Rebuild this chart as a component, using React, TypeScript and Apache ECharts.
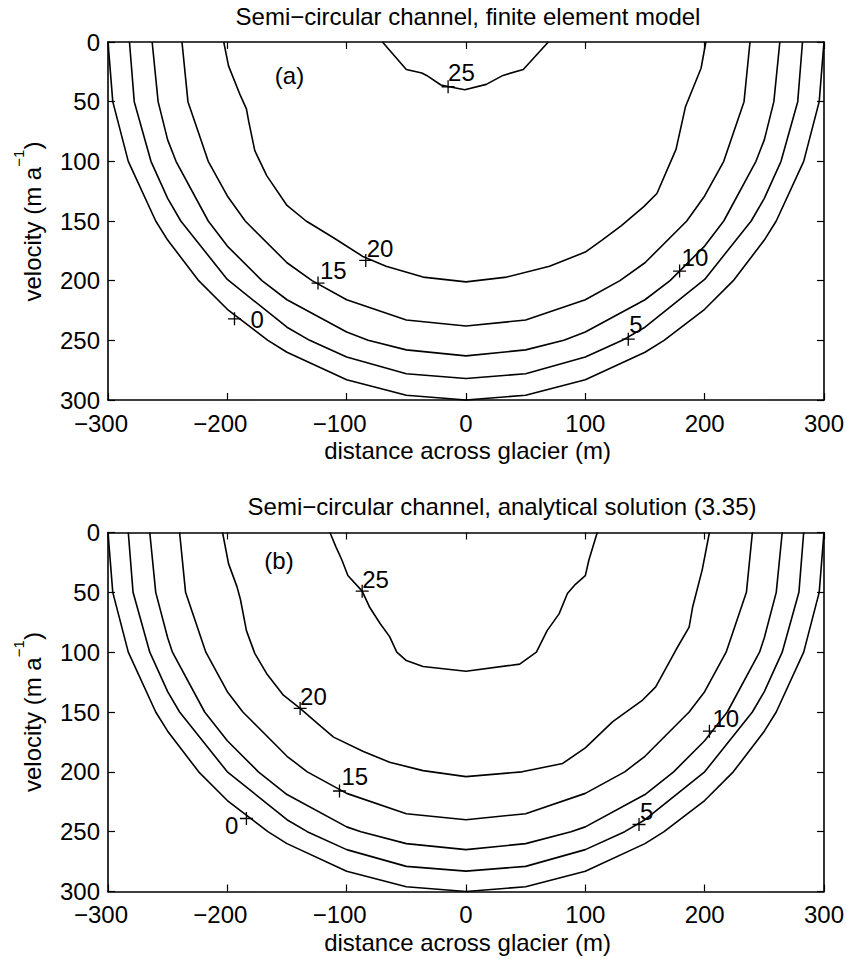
import React, { useEffect, useRef } from "react";
import * as echarts from "echarts";

// ---- Panel (a): finite element model, contour lines [distance (m), depth (m)] ----
const feLevel0 = [[-300,0],[-296,50],[-283,100],[-260,150],[-250,166],[-224,200],[-200,224],[-166,250],[-150,260],[-100,283],[-50,296],[0,300],[50,296],[100,283],[150,260],[166,250],[200,224],[224,200],[250,166],[260,150],[283,100],[296,50],[300,0]];
const feLevel5 = [[-282,0],[-278,50],[-264,100],[-250,131],[-239,150],[-200,199],[-150,239],[-131,250],[-100,264],[-50,278],[0,282],[50,278],[100,264],[131,250],[150,239],[200,199],[239,150],[250,131],[264,100],[278,50],[282,0]];
const feLevel10 = [[-263,0],[-258,50],[-250,82],[-243,100],[-216,150],[-200,171],[-171,200],[-150,216],[-100,243],[-82,250],[-50,258],[0,263],[50,258],[82,250],[100,243],[150,216],[171,200],[200,171],[216,150],[243,100],[250,82],[258,50],[263,0]];
const feLevel15 = [[-238,0],[-233,50],[-216,100],[-200,129],[-185,150],[-150,185],[-129,200],[-100,216],[-50,233],[0,238],[50,233],[100,216],[129,200],[150,185],[185,150],[200,129],[216,100],[233,50],[238,0]];
const feLevel20 = [[-203,0],[-199,20],[-189,45],[-184,56],[-182,67],[-177,91],[-167,112],[-150,137],[-134,150],[-111,164],[-86,180],[-67,188],[-36,197],[0,201],[34,197],[70,188],[100,176],[114,166],[130,154],[149,138],[160,127],[176,90],[184,54],[197,22],[201,0]];
const feLevel25 = [[-70,0],[-50,23],[-37,26],[-33,28],[-21,36],[-14,37.5],[-1,40],[17,35.5],[31,28],[48,23],[69,0]];
const feLines = [feLevel0, feLevel5, feLevel10, feLevel15, feLevel20, feLevel25];

// clabel markers on panel (a)
const labelLevels = [25, 20, 15, 10, 5, 0];
const feLabelPoints = [[-15,37.5],[-84,183],[-124,202],[179,192],[136,249],[-194,232]];

// ---- Panel (b): analytical solution (3.35) ----
const anLevel0 = [[-300,0],[-296,50],[-283,100],[-260,150],[-250,166],[-224,200],[-200,224],[-166,250],[-150,260],[-100,283],[-50,296],[0,300],[50,296],[100,283],[150,260],[166,250],[200,224],[224,200],[250,166],[260,150],[283,100],[296,50],[300,0]];
const anLevel5 = [[-283,0],[-279,50],[-265,100],[-250,133],[-240,150],[-200,200],[-150,240],[-133,250],[-100,265],[-50,279],[0,283],[50,279],[100,265],[133,250],[150,240],[200,200],[240,150],[250,133],[265,100],[279,50],[283,0]];
const anLevel10 = [[-265,0],[-260,50],[-250,88],[-246,100],[-219,150],[-200,174],[-174,200],[-150,219],[-100,246],[-88,250],[-50,260],[0,265],[50,260],[88,250],[100,246],[150,219],[174,200],[200,174],[219,150],[246,100],[250,88],[260,50],[265,0]];
const anLevel15 = [[-240,0],[-235,50],[-218,100],[-200,133],[-187,150],[-150,187],[-133,200],[-100,218],[-50,235],[0,240],[50,235],[100,218],[133,200],[150,187],[187,150],[200,133],[218,100],[235,50],[240,0]];
const anLevel20 = [[-204,0],[-199,26],[-192,45],[-189,56],[-184,82],[-177,101],[-167,118],[-153,136],[-139,147],[-125,159],[-111,171],[-86,183],[-64,192],[-36,199],[0,204],[47,200],[81,193],[100,180],[123,158],[148,140],[159,129],[176,98],[187,79],[190,62],[198,31],[204,0]];
const anLevel25 = [[-114,0],[-109,12],[-104,23],[-99,36],[-87,49],[-81,62],[-72,76],[-64,87],[-58,100],[-50,107],[-36,112],[0,116],[45,110],[59,100],[68,82],[78,68],[85,51],[91,44],[100,36],[103,23],[110,0]];
const anLines = [anLevel0, anLevel5, anLevel10, anLevel15, anLevel20, anLevel25];

const anLabelPoints = [[-87,49],[-139,147],[-106,216],[204,166],[145,244],[-184,239]];

// axis ticks
const xMin = -300, xMax = 300, xStep = 100;
const yMin = 0, yMax = 300, yStep = 50;

// text
const titleA = "Semi\u2212circular channel, finite element model";
const titleB = "Semi\u2212circular channel, analytical solution (3.35)";
const xName = "distance across glacier (m)";

// label text placement next to each "+" (pixels: dx, dy, alignment)
const feLabelPlace: [number, number, string][] = [[0,-14,"left"],[1,-12,"left"],[2,-13,"left"],[2,-14,"left"],[1,-15,"left"],[16,1,"left"]];
const anLabelPlace: [number, number, string][] = [[0,-12,"left"],[0,-12,"left"],[2,-14,"left"],[3,-13,"left"],[1,-13,"left"],[-8,7,"right"]];

const FONT = "Liberation Sans, Arial, Helvetica, sans-serif";
const PLUS = "path://M9,0h2v20h-2z M0,9h20v2h-20z";
const MARK = 13;

function xAxes(grid: number) {
  const base = {
    type: "value", gridIndex: grid, min: xMin, max: xMax, interval: xStep,
    axisLine: { show: true, onZero: false, lineStyle: { color: "#000", width: 1.6 } },
    axisTick: { show: true, inside: true, length: 7, lineStyle: { color: "#000", width: 1.2 } },
    splitLine: { show: false },
  };
  return [
    {
      ...base, position: "bottom",
      axisLabel: {
        show: true, color: "#000", fontSize: 24, fontFamily: FONT, margin: 11,
        formatter: (v: number) => (v < 0 ? `\u2212${-v}{g| }` : String(v)),
        rich: { g: { width: 14, fontSize: 24 } },
      },
    },
    { ...base, position: "top", axisLabel: { show: false } },
  ];
}

function yAxes(grid: number) {
  const base = {
    type: "value", gridIndex: grid, min: yMin, max: yMax, interval: yStep, inverse: true,
    axisLine: { show: true, onZero: false, lineStyle: { color: "#000", width: 1.6 } },
    axisTick: { show: true, inside: true, length: 7, lineStyle: { color: "#000", width: 1.2 } },
    splitLine: { show: false },
  };
  return [
    { ...base, position: "left", axisLabel: { show: true, color: "#000", fontSize: 24, fontFamily: FONT, margin: 8 } },
    { ...base, position: "right", axisLabel: { show: false } },
  ];
}

function contourSeries(lines: number[][][], axis: number) {
  return lines.map((pts) => ({
    type: "line", xAxisIndex: axis, yAxisIndex: axis, data: pts,
    showSymbol: false, symbol: "none", clip: false, silent: true,
    lineStyle: { color: "#000", width: 1.6 },
  }));
}

function markerSeries(points: number[][], place: [number, number, string][], axis: number) {
  return {
    type: "scatter", xAxisIndex: axis, yAxisIndex: axis, symbol: PLUS, symbolSize: MARK,
    itemStyle: { color: "#000", opacity: 1 }, clip: false, silent: true, z: 5,
    data: points.map((p, i) => ({
      value: p,
      name: String(labelLevels[i]),
      label: {
        show: true, formatter: "{b}",
        position: [MARK / 2 + place[i][0], MARK / 2 + place[i][1]],
        align: place[i][2], verticalAlign: "middle",
        color: "#000", opacity: 1, fontSize: 24, fontFamily: FONT,
      },
    })),
  };
}

function yLabel(cx: number, cy: number) {
  const st = { fill: "#000", fontFamily: FONT, verticalAlign: "middle", align: "left" };
  return {
    type: "group", x: cx, y: cy, rotation: Math.PI / 2,
    children: [
      { type: "text", x: -80, y: 0, style: { ...st, text: "velocity (m a", fontSize: 24 } },
      { type: "text", x: 54.7, y: -14, style: { ...st, text: "\u22121", fontSize: 15 } },
      { type: "text", x: 72, y: 0, style: { ...st, text: ")", fontSize: 24 } },
    ],
  };
}

function centered(text: string, x: number, y: number, size = 24) {
  return {
    type: "text", x, y,
    style: { text, fill: "#000", fontSize: size, fontFamily: FONT, align: "center", verticalAlign: "middle" },
  };
}

export default function App() {
  const ref = useRef<HTMLDivElement>(null);

  useEffect(() => {
    if (!ref.current) return;
    const chart = echarts.init(ref.current, undefined, { renderer: "svg" });
    chart.setOption({
      animation: false,
      backgroundColor: "#fff",
      grid: [
        { left: 108, top: 42, width: 717, height: 358 },
        { left: 108, top: 532.5, width: 717, height: 359 },
      ],
      xAxis: [...xAxes(0), ...xAxes(1)],
      yAxis: [...yAxes(0), ...yAxes(1)],
      series: [
        ...contourSeries(feLines, 0),
        markerSeries(feLabelPoints, feLabelPlace, 0),
        ...contourSeries(anLines, 2),
        markerSeries(anLabelPoints, anLabelPlace, 2),
      ],
      graphic: [
        centered(titleA, 468, 16.5),
        centered(titleB, 502, 506),
        centered(xName, 467.5, 450),
        centered(xName, 467.5, 942.5),
        centered("(a)", 289.5, 75),
        centered("(b)", 279, 560),
        yLabel(32, 221.5),
        yLabel(32, 712),
      ],
    });
    return () => chart.dispose();
  }, []);

  return (
    <div
      ref={ref}
      style={{ position: "absolute", left: 0, top: 0, width: 847, height: 959, background: "#fff" }}
    />
  );
}
